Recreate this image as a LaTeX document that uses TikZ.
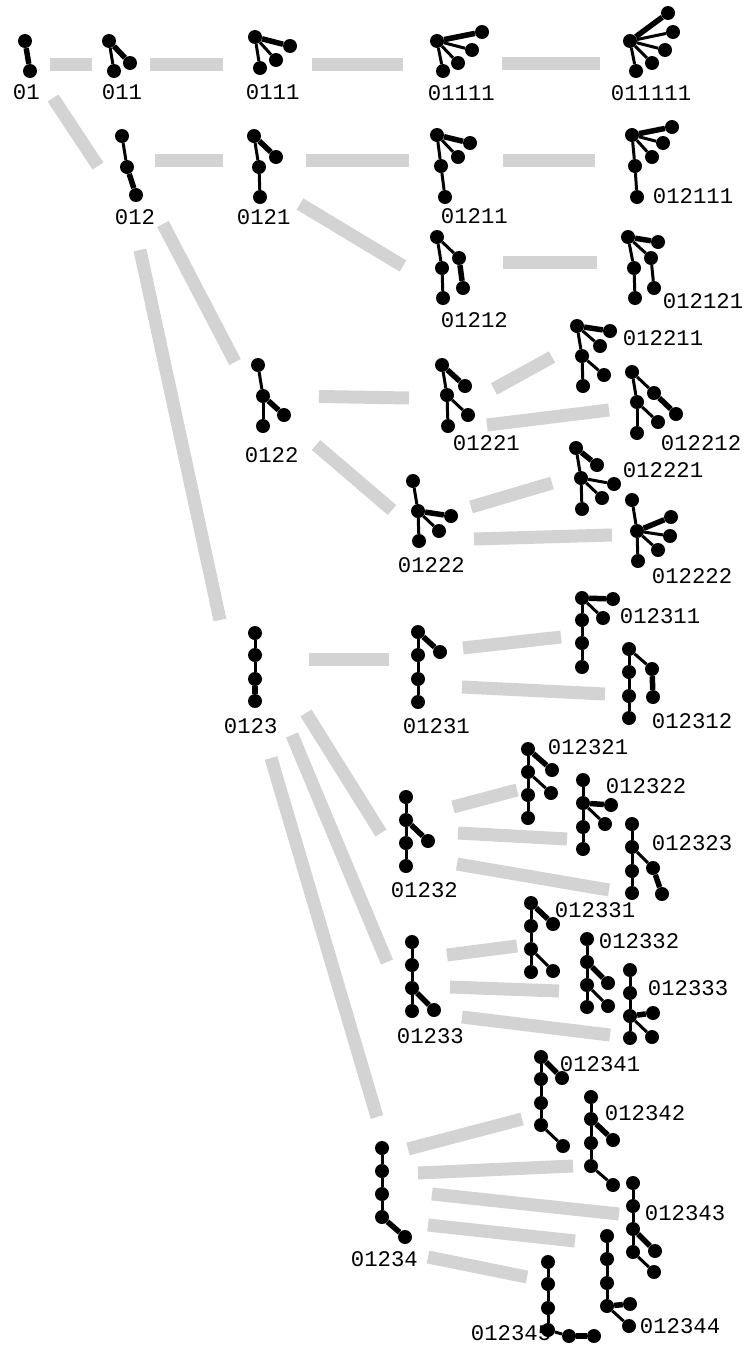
\documentclass[tikz,border=0pt]{standalone}
\usepackage{fontspec}
\newfontfamily\labelfont{Liberation Mono}
\definecolor{barc}{RGB}{211,211,211}
\tikzset{
  vtx/.style={circle,fill=black,inner sep=0pt,minimum size=14pt},
  thinedge/.style={line width=3pt},
  thickedge/.style={line width=5.5pt},
  linkbar/.style={line width=13pt,draw=barc},
  lbl/.style={anchor=base west,inner sep=0pt,xshift=-1.3pt,
    font=\labelfont\fontsize{22.3}{24}\selectfont},
}
% gray link between two trees, ends kept as named coordinates
\newcommand\link[3]{%
  \coordinate (#1-s) at (#2);
  \coordinate (#1-e) at (#3);
  \draw[linkbar] (#1-s) -- (#1-e);}
% rooted tree: name, vertices (name/x/y), thin edges, thick edge (last vertex added)
\newcommand\tree[5]{%
  \foreach \n/\px/\py in {#2} {\node[vtx] (#1-\n) at (\px,\py) {};}
  \foreach \u/\v in {#3} {\draw[thinedge] (#1-\u) -- (#1-\v);}
  \draw[thickedge] (#1-#4) -- (#1-#5);}
\newcommand\lab[3]{\node[lbl] (n#1) at (#2,#3) {#1};}
\begin{document}
\begin{tikzpicture}[x=1pt,y=-1pt]
\path[use as bounding box] (0,0) rectangle (747,1347);

% links
\link{l01-011}{50,64}{92,64}
\link{l011-0111}{150,64}{223,64}
\link{l0111-01111}{312,64}{403,64}
\link{l01111-011111}{502,63}{600,63}
\link{l01-012}{53,98}{98,166}
\link{l012-0121}{155,160}{223,160}
\link{l0121-01211}{306,160}{409,160}
\link{l0121-01212}{300,204}{403,266}
\link{l01211-012111}{503,160}{595,160}
\link{l01212-012121}{503,262}{597,262}
\link{l012-0122}{163,224}{235,362}
\link{l012-0123}{140,250}{220,620}
\link{l0122-01221}{319,396.5}{409,398}
\link{l0122-01222}{316,445}{392,510}
\link{l01221-012211}{494,389}{552,357}
\link{l01221-012212}{487,425}{609,410}
\link{l01222-012221}{471,507}{552,483}
\link{l01222-012222}{474,539}{612,535}
\link{l0123-01231}{309,659}{389,659}
\link{l01231-012311}{463,648}{561,637}
\link{l01231-012312}{462,687}{605,694}
\link{l0123-01232}{306,713}{381,833}
\link{l0123-01233}{292,735}{387,962}
\link{l0123-01234}{271,758}{377,1117}
\link{l01232-012321}{453,807}{517,790}
\link{l01232-012322}{458,833}{567,839}
\link{l01232-012323}{457,864}{609,890}
\link{l01233-012331}{447,955}{517,946}
\link{l01233-012332}{450,987}{559,991}
\link{l01233-012333}{462,1017}{610,1035}
\link{l01234-012341}{408,1149}{522,1119}
\link{l01234-012342}{418,1173}{573,1166}
\link{l01234-012343}{432,1194}{619,1214}
\link{l01234-012344}{428,1225}{575,1241}
\link{l01234-012345}{428,1257}{527,1277}

% labels
\lab{01}{14}{99}
\lab{011}{103}{99}
\lab{0111}{247}{99}
\lab{01111}{429}{100}
\lab{011111}{612}{100}
\lab{012}{116}{224}
\lab{0121}{238}{224}
\lab{01211}{442}{223}
\lab{012111}{654}{203}
\lab{01212}{442}{327}
\lab{012121}{664}{308}
\lab{012211}{624}{345}
\lab{012212}{662}{450}
\lab{01221}{454}{450}
\lab{01222}{399}{572}
\lab{012221}{624}{477}
\lab{012222}{653}{583}
\lab{0122}{246}{462}
\lab{0123}{225}{733}
\lab{01231}{404}{733}
\lab{012311}{621}{623}
\lab{012312}{653}{728}
\lab{012321}{549}{754}
\lab{012322}{607}{793}
\lab{012323}{653}{850}
\lab{01232}{392}{897}
\lab{012331}{556}{917}
\lab{012332}{600}{948}
\lab{012333}{649}{995}
\lab{01233}{398}{1043}
\lab{012341}{561}{1071}
\lab{012342}{606}{1120}
\lab{012343}{646}{1220}
\lab{012344}{641}{1333}
\lab{01234}{352}{1266}
\lab{012345}{472}{1340}

% trees
\node[vtx] (t01-r) at (25,41) {};
\node[vtx] (t01-a) at (30,71) {};
\draw[thickedge] (t01-r) -- (t01-a);
\tree{t011}{r/109/41,a/114/71,b/130/63}{r/a}{r}{b}
\tree{t0111}{r/255/37,a/260/68,b/276/60,c/290/46}{r/a,r/b}{r}{c}
\tree{t01111}{r/437/41,a/443/71,b/458/63,c/472/50,d/482/32}{r/a,r/b,r/c}{r}{d}
\tree{t011111}{r/630/41,a/636/71,b/652/63,c/665/50,d/673/32,e/668/13}{r/a,r/b,r/c,r/d}{r}{e}
\tree{t012}{r/122/136,a/127/167,b/136/195}{r/a}{a}{b}
\tree{t0121}{r/254/136,a/259/167,b/260/197,c/276/157}{r/a,a/b}{r}{c}
\tree{t01211}{r/437/135,a/441/166,b/445/197,c/458/157,d/470/143}{r/a,a/b,r/c}{r}{d}
\tree{t012111}{r/632/135,a/635/166,b/637/197,c/652/157,d/663/143,e/672/127}{r/a,a/b,r/c,r/d}{r}{e}
\tree{t01212}{r/437/237,a/442/268,b/443/298,c/459/258,d/463/288}{r/a,a/b,r/c}{c}{d}
\tree{t012121}{r/628/237,a/634/268,b/635/298,c/651/258,d/654/288,e/658/242}{r/a,a/b,r/c,c/d}{r}{e}
\tree{t0122}{r/258/365,a/263/396,b/263/426,c/284/415}{r/a,a/b}{a}{c}
\tree{t01221}{r/442/365,a/447/395,b/448/426,c/468/415,d/465/386}{r/a,a/b,a/c}{r}{d}
\tree{t012211}{r/577/326,a/582/356,b/583/386,c/604/375,d/600/346,e/610/331}{r/a,a/b,a/c,r/d}{r}{e}
\tree{t012212}{r/632/372,a/637/402,b/637/433,c/658/422,d/654/393,e/676/414}{r/a,a/b,a/c,r/d}{d}{e}
\tree{t01222}{r/413/481,a/418/511,b/419/541,c/439/531,d/451/516}{r/a,a/b,a/c}{a}{d}
\tree{t012221}{r/576/448,a/581/478,b/582/509,c/602/498,d/614/484,e/597/465}{r/a,a/b,a/c,a/d}{r}{e}
\tree{t012222}{r/632/500,a/637/531,b/638/561,c/658/550,d/670/536,e/671/517}{r/a,a/b,a/c,a/d}{a}{e}
\tree{t0123}{r/255/633,a/255/655,b/255/679,c/255/701}{r/a,a/b}{b}{c}
\tree{t01231}{r/418/632,a/418/655,b/418/679,c/418/702,d/440/652}{r/a,a/b,b/c}{r}{d}
\tree{t012311}{r/582/598,a/582/620,b/582/643,c/582/667,d/603/618,e/613/599}{r/a,a/b,b/c,r/d}{r}{e}
\tree{t012312}{r/629/649,a/629/672,b/629/696,c/629/718,d/652/669,e/653/697}{r/a,a/b,b/c,r/d}{d}{e}
\tree{t012321}{r/528/749,a/528/772,b/528/795,c/528/818,d/551/793,e/552/770}{r/a,a/b,b/c,a/d}{r}{e}
\tree{t012322}{r/583/780,a/583/803,b/583/827,c/583/849,d/605/824,e/611/805}{r/a,a/b,b/c,a/d}{a}{e}
\tree{t012323}{r/632/824,a/632/847,b/632/871,c/632/893,d/653/868,e/662/894}{r/a,a/b,b/c,a/d}{d}{e}
\tree{t01232}{r/406/797,a/406/820,b/406/843,c/406/866,d/428/841}{r/a,a/b,b/c}{a}{d}
\tree{t012331}{r/531/903,a/531/926,b/531/949,c/531/972,d/553/971,e/553/924}{r/a,a/b,b/c,b/d}{r}{e}
\tree{t012332}{r/587/939,a/587/962,b/587/985,c/587/1007,d/608/1006,e/608/983}{r/a,a/b,b/c,b/d}{a}{e}
\tree{t01233}{r/412/942,a/412/965,b/412/988,c/412/1011,d/434/1010}{r/a,a/b,b/c}{b}{d}
\tree{t012333}{r/630/970,a/630/993,b/630/1016,c/630/1038,d/652/1037,e/653/1013}{r/a,a/b,b/c,b/d}{b}{e}
\tree{t01234}{r/382/1148,a/382/1171,b/382/1194,c/382/1217,d/405/1237}{r/a,a/b,b/c}{c}{d}
\tree{t012341}{r/541/1057,a/541/1079,b/541/1103,c/541/1125,d/563/1146,e/562/1078}{r/a,a/b,b/c,c/d}{r}{e}
\tree{t012342}{r/591/1097,a/591/1119,b/591/1143,c/591/1166,d/613/1185,e/613/1140}{r/a,a/b,b/c,c/d}{a}{e}
\tree{t012343}{r/633/1183,a/633/1206,b/633/1229,c/633/1252,d/654/1272,e/655/1251}{r/a,a/b,b/c,c/d}{b}{e}
\tree{t012344}{r/607/1236,a/607/1259,b/607/1283,c/607/1306,d/629/1326,e/630/1304}{r/a,a/b,b/c,c/d}{c}{e}
\tree{t012345}{r/548/1262,a/548/1284,b/548/1308,c/548/1330,d/569/1336,e/594/1336}{r/a,a/b,b/c,c/d}{d}{e}
\end{tikzpicture}
\end{document}
